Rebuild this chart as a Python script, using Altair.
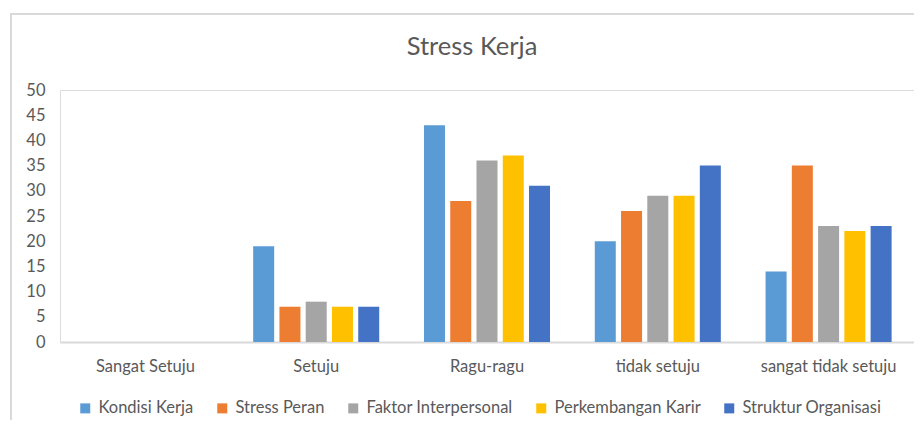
import altair as alt
import pandas as pd

categories = ["Sangat Setuju", "Setuju", "Ragu-ragu", "tidak setuju", "sangat tidak setuju"]
series = ["Kondisi Kerja", "Stress Peran", "Faktor Interpersonal", "Perkembangan Karir", "Struktur Organisasi"]
colors = ["#5B9BD5", "#ED7D31", "#A5A5A5", "#FFC000", "#4472C4"]

kondisi_kerja = [0, 19, 43, 20, 14]
stress_peran = [0, 7, 28, 26, 35]
faktor_interpersonal = [0, 8, 36, 29, 23]
perkembangan_karir = [0, 7, 37, 29, 22]
struktur_organisasi = [0, 7, 31, 35, 23]

y_ticks = [0, 5, 10, 15, 20, 25, 30, 35, 40, 45, 50]
chart_title = "Stress Kerja"

values = [kondisi_kerja, stress_peran, faktor_interpersonal, perkembangan_karir, struktur_organisasi]
rows = []
for s, vals in zip(series, values):
    for c, v in zip(categories, vals):
        rows.append({"Kategori": c, "Series": s, "Nilai": v})
df = pd.DataFrame(rows)

FONT = "Lato"
TXT = "#595959"

bars = alt.Chart(df).mark_bar().encode(
    x=alt.X("Kategori:N", sort=categories,
            scale=alt.Scale(domain=categories, paddingInner=0.262, paddingOuter=0.131),
            axis=alt.Axis(title=None, labelAngle=0, ticks=False, labelPadding=16,
                          domainColor="#D9D9D9", domainWidth=2,
                          labelFont=FONT, labelFontSize=16.5, labelColor=TXT)),
    xOffset=alt.XOffset("Series:N", sort=series,
                        scale=alt.Scale(domain=series, paddingInner=0.2, paddingOuter=0)),
    y=alt.Y("Nilai:Q", scale=alt.Scale(domain=[0, 50], nice=False),
            axis=alt.Axis(title=None, values=y_ticks, grid=False, domain=False, ticks=False,
                          labelPadding=15, labelFont=FONT, labelFontSize=16.5, labelColor=TXT)),
    color=alt.Color("Series:N", sort=series,
                    scale=alt.Scale(domain=series, range=colors),
                    legend=alt.Legend(title=None, orient="none", direction="horizontal",
                                      legendX=17, legendY=310, symbolType="square",
                                      symbolSize=100, symbolStrokeWidth=0, labelOffset=5,
                                      columnPadding=20, labelFont=FONT, labelFontSize=16.5,
                                      labelColor=TXT, labelLimit=300)),
)

frame_df = pd.DataFrame({"a": [0]})
left_border = alt.Chart(frame_df).mark_rule(color="#D9D9D9", strokeWidth=2).encode(
    x=alt.value(-49), y=alt.value(-76), y2=alt.value(340)
)
top_border = alt.Chart(frame_df).mark_rule(color="#D9D9D9", strokeWidth=2).encode(
    x=alt.value(-50), x2=alt.value(860), y=alt.value(-76)
)

title_df = pd.DataFrame({"t": [chart_title]})
title_text = alt.Chart(title_df).mark_text(
    font=FONT, fontSize=25.5, color=TXT, align="center", baseline="alphabetic"
).encode(text="t:N", x=alt.value(412), y=alt.value(-35))

chart = alt.layer(bars, left_border, top_border, title_text).properties(
    width=854,
    height=252,
    autosize=alt.AutoSizeParams(type="none"),
    padding={"left": 52, "top": 82, "right": 0, "bottom": 78},
).configure_view(stroke=None).configure(background="white")

chart.save("out.html", embed_options={"renderer": "svg", "actions": False})
